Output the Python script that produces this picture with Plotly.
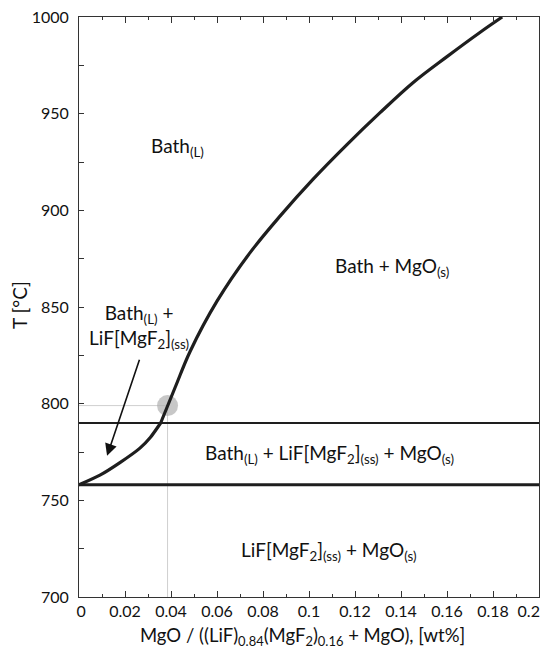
import plotly.graph_objects as go

# Liquidus curve, lower branch (LiF[MgF2] side) -- MgO fraction vs T
lower_x = [0.0, 0.0091, 0.0178, 0.0265, 0.031, 0.0355]
lower_T = [758, 763, 769.5, 777, 782.5, 790]

# Liquidus curve, upper branch (MgO liquidus)
upper_x = [0.0355, 0.0420, 0.0483, 0.060, 0.0743, 0.0874, 0.1017,
           0.1165, 0.1309, 0.1452, 0.160, 0.1743, 0.184]
upper_T = [790, 809, 827, 853, 878, 897, 916,
           934, 950.5, 966, 979.5, 992, 1000]

# Invariant (horizontal) temperatures
eutectic_T = 758
peritectic_T = 790

# Highlighted point
point_x = 0.0385
point_T = 799

x_range = [0, 0.2]
T_range = [700, 1000]

NB = "\u00a0"
x_tickvals = [0, 0.02, 0.04, 0.06, 0.08, 0.1, 0.12, 0.14, 0.16, 0.18, 0.2]
x_ticktext = [NB + "0", "0.02", "0.04", "0.06", "0.08", "0.1", "0.12", "0.14", "0.16", "0.18",
              "0.2" + NB * 5]
T_tickvals = [700, 750, 800, 850, 900, 950, 1000]

labels = [
    ("Bath<sub>(L)</sub>", 0.043, 933),
    ("Bath + MgO<sub>(s)</sub>", 0.1363, 870.5),
    ("Bath<sub>(L)</sub> +<br>LiF[MgF<sub>2</sub>]<sub>(ss)</sub>", 0.0262, 840),
    ("Bath<sub>(L)</sub> + LiF[MgF<sub>2</sub>]<sub>(ss)</sub> + MgO<sub>(s)</sub>", 0.1087, 774),
    ("LiF[MgF<sub>2</sub>]<sub>(ss)</sub> + MgO<sub>(s)</sub>", 0.1085, 724),
]
arrow_tail = (0.0265, 823.5)
arrow_tip = (0.0122, 773)

FONT = "Lato, Noto Sans, sans-serif"
DARK = "#1e1e1e"

fig = go.Figure()

# grey guide lines
fig.add_trace(go.Scatter(x=[point_x, point_x], y=[T_range[0], point_T], mode="lines",
                         line=dict(color="#cfcfcf", width=1), hoverinfo="skip", showlegend=False))
fig.add_trace(go.Scatter(x=[x_range[0], point_x], y=[point_T, point_T], mode="lines",
                         line=dict(color="#cfcfcf", width=1), hoverinfo="skip", showlegend=False))
# grey circle
fig.add_trace(go.Scatter(x=[point_x], y=[point_T], mode="markers",
                         marker=dict(size=21, color="rgba(175,175,175,0.7)", line=dict(width=0)),
                         hoverinfo="skip", showlegend=False))

# horizontal invariant lines
fig.add_trace(go.Scatter(x=x_range, y=[peritectic_T, peritectic_T], mode="lines",
                         line=dict(color=DARK, width=2), showlegend=False))
fig.add_trace(go.Scatter(x=x_range, y=[eutectic_T, eutectic_T], mode="lines",
                         line=dict(color=DARK, width=3), showlegend=False))

# liquidus curves
fig.add_trace(go.Scatter(x=lower_x, y=lower_T, mode="lines", line_shape="spline",
                         line=dict(color=DARK, width=3.2, smoothing=0.7), showlegend=False))
fig.add_trace(go.Scatter(x=upper_x, y=upper_T, mode="lines", line_shape="spline",
                         line=dict(color=DARK, width=3.2, smoothing=1.0), showlegend=False))

for text, lx, ly in labels:
    fig.add_annotation(x=lx, y=ly, text=text, showarrow=False,
                       font=dict(family=FONT, size=19, color="#111"), align="center")

fig.add_annotation(x=arrow_tip[0], y=arrow_tip[1], ax=arrow_tail[0], ay=arrow_tail[1],
                   axref="x", ayref="y", xref="x", yref="y", text="", showarrow=True,
                   arrowhead=2, arrowsize=1.5, arrowwidth=1.6, arrowcolor="#111")

# axis titles
fig.add_annotation(xref="paper", yref="paper", x=(19 - 79) / 460, y=(597 - 305) / 580,
                   text="T [°C]", textangle=-90, showarrow=False,
                   font=dict(family=FONT, size=19, color="#111"), xanchor="center", yanchor="middle")
fig.add_annotation(xref="paper", yref="paper", x=(302 - 79) / 460, y=(597 - 636) / 580,
                   text="MgO / ((LiF)<sub>0.84</sub>(MgF<sub>2</sub>)<sub>0.16</sub> + MgO), [wt%]",
                   showarrow=False, font=dict(family=FONT, size=18.5, color="#111"),
                   xanchor="center", yanchor="middle")

fig.update_layout(
    width=541, height=648,
    margin=dict(l=79, r=2, t=17, b=51, autoexpand=False),
    plot_bgcolor="white", paper_bgcolor="white",
    font=dict(family=FONT, size=16, color="#111"),
)
fig.update_xaxes(range=x_range, tickvals=x_tickvals, ticktext=x_ticktext,
                 showgrid=False, zeroline=False, showline=True, linecolor="#333", linewidth=1,
                 mirror="ticks", ticks="inside", ticklen=6, tickcolor="#333",
                 ticklabeloverflow="allow", automargin=False,
                 minor=dict(ticks="inside", ticklen=3, dtick=0.01, tick0=0, tickcolor="#333", showgrid=False),
                 tickfont=dict(family=FONT, size=16, color="#111"))
fig.update_yaxes(range=T_range, tickvals=T_tickvals, automargin=False,
                 showgrid=False, zeroline=False, showline=True, linecolor="#333", linewidth=1,
                 mirror=True, ticks="inside", ticklen=5, tickcolor="#333",
                 minor=dict(ticks="inside", ticklen=5, dtick=25, tick0=700, tickcolor="#333", showgrid=False),
                 ticklabelstandoff=6,
                 tickfont=dict(family=FONT, size=16, color="#111"))

fig.write_html("out.html")
